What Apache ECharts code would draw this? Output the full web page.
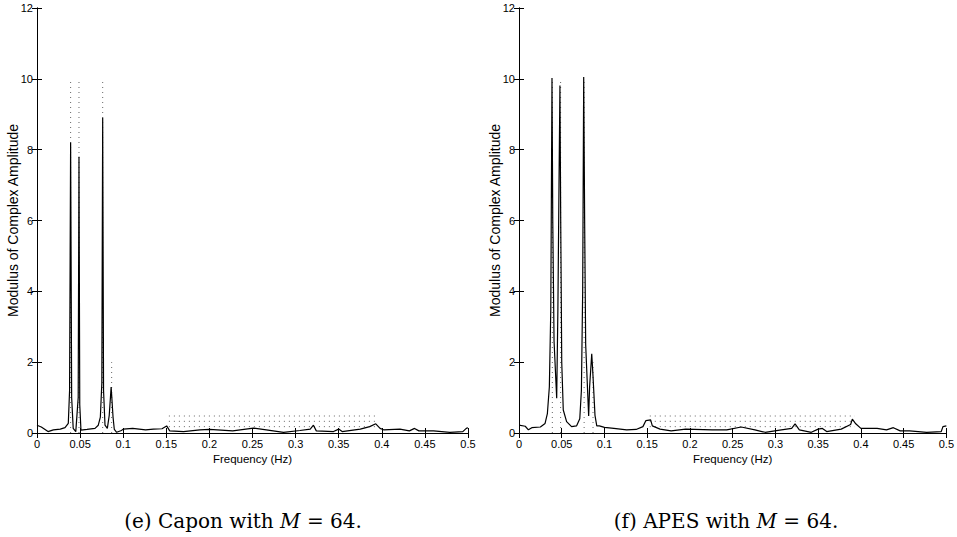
<!DOCTYPE html>
<html>
<head>
<meta charset="utf-8">
<script src="https://cdn.jsdelivr.net/npm/echarts@6/dist/echarts.min.js"></script>
<style>
html,body{margin:0;padding:0;background:#fff;}
#chart{width:957px;height:537px;}
</style>
</head>
<body>
<div id="chart"></div>
<script>
// ---- Data ----
// (e) Capon spectrum estimate
const caponFreq = [0, 0.005, 0.0128, 0.019, 0.027, 0.0325, 0.0363, 0.0378, 0.039, 0.0402, 0.042, 0.045, 0.0478, 0.0487, 0.0496, 0.051, 0.058, 0.0673, 0.0711, 0.0735, 0.0752, 0.0762, 0.0772, 0.0789, 0.0816, 0.0838, 0.0852, 0.086, 0.0868, 0.0882, 0.0897, 0.0924, 0.098, 0.1, 0.111, 0.126, 0.135, 0.145, 0.1504, 0.154, 0.17, 0.189, 0.2, 0.227, 0.251, 0.266, 0.286, 0.305, 0.317, 0.3207, 0.324, 0.344, 0.35, 0.354, 0.375, 0.386, 0.393, 0.398, 0.402, 0.421, 0.432, 0.438, 0.443, 0.46, 0.479, 0.494, 0.498, 0.5];
const caponAmp  = [0.22, 0.17, 0.04, 0.09, 0.11, 0.15, 0.27, 1.2, 8.2, 1.0, 0.13, 0.04, 1.0, 7.8, 0.8, 0.08, 0.1, 0.13, 0.22, 0.45, 1.4, 8.9, 1.2, 0.22, 0.13, 0.5, 1.0, 1.3, 1.0, 0.45, 0.1, 0.02, 0.07, 0.11, 0.13, 0.09, 0.11, 0.12, 0.2, 0.06, 0.04, 0.09, 0.1, 0.06, 0.14, 0.09, 0.02, 0.07, 0.11, 0.22, 0.06, 0.04, 0.11, 0.04, 0.11, 0.18, 0.26, 0.13, 0.09, 0.11, 0.06, 0.13, 0.06, 0.06, 0.02, 0.04, 0.13, 0.15];
// (f) APES spectrum estimate
const apesFreq = [0, 0.0073, 0.011, 0.015, 0.025, 0.0305, 0.0332, 0.0355, 0.0372, 0.0386, 0.0395, 0.041, 0.0441, 0.0455, 0.0468, 0.0479, 0.0488, 0.05, 0.0518, 0.0557, 0.0615, 0.0673, 0.0711, 0.073, 0.0745, 0.0757, 0.0768, 0.078, 0.0815, 0.0826, 0.0851, 0.0866, 0.0889, 0.091, 0.094, 0.1, 0.111, 0.126, 0.137, 0.145, 0.1485, 0.154, 0.156, 0.165, 0.178, 0.195, 0.226, 0.243, 0.26, 0.276, 0.288, 0.307, 0.319, 0.323, 0.328, 0.342, 0.35, 0.355, 0.36, 0.377, 0.388, 0.39, 0.394, 0.4, 0.419, 0.43, 0.438, 0.446, 0.457, 0.477, 0.494, 0.496, 0.5];
const apesAmp  = [0.22, 0.19, 0.09, 0.15, 0.17, 0.27, 0.55, 1.3, 3.5, 10.02, 6.0, 2.6, 0.98, 3.5, 7.0, 9.81, 6.0, 2.0, 0.65, 0.32, 0.18, 0.2, 0.4, 1.2, 4.0, 10.05, 6.0, 2.5, 0.48, 1.3, 2.24, 1.6, 0.5, 0.2, 0.2, 0.16, 0.13, 0.09, 0.1, 0.18, 0.35, 0.37, 0.2, 0.11, 0.06, 0.11, 0.09, 0.09, 0.17, 0.09, 0.02, 0.09, 0.13, 0.26, 0.09, 0.02, 0.11, 0.13, 0.04, 0.11, 0.24, 0.39, 0.26, 0.13, 0.13, 0.09, 0.15, 0.06, 0.06, 0.02, 0.04, 0.18, 0.2];
// True spectrum (dotted): line components and continuous band
const trueFreq = [0.039, 0.0487, 0.0762, 0.0866];
const trueAmp  = [10, 10, 10, 2];
const bandStart = 0.153, bandEnd = 0.393;
const bandLevels = [0.18, 0.33, 0.48];
// Axis ticks
const xMin = 0, xMax = 0.5, xStep = 0.05;
const yMin = 0, yMax = 12, yStep = 2;
const captions = ['(e) Capon with {m|M} = 64.', '(f) APES with {m|M} = 64.'];
const yName = 'Modulus of Complex Amplitude';
const xName = 'Frequency (Hz)';

// ---- Layout ----
const grids = [
  {left: 37, top: 8, width: 431, height: 425},
  {left: 519, top: 8, width: 430, height: 425}
];
const capX = [238, 721];

const sansFamily = "'Liberation Sans', Arial, Helvetica, sans-serif";
const labelFont = {fontFamily: sansFamily, fontSize: 11, color: '#000'};
const axLine = {show: true, lineStyle: {color: '#000', width: 1}};
const tick = {show: true, inside: true, length: 5, lineStyle: {color: '#000', width: 1}};

const xAxes = [], yAxes = [], series = [], titles = [];
grids.forEach((g, p) => {
  xAxes.push({
    type: 'value', gridIndex: p, min: xMin, max: xMax, interval: xStep, position: 'bottom',
    axisLine: axLine, axisTick: tick, splitLine: {show: false},
    axisLabel: Object.assign({margin: 5}, labelFont),
    name: xName, nameLocation: 'middle', nameGap: 20, nameMoveOverlap: false,
    nameTextStyle: Object.assign({}, labelFont, {fontSize: 11.5})
  });
  xAxes.push({
    type: 'value', gridIndex: p, min: xMin, max: xMax, interval: xStep, position: 'top',
    axisLine: axLine, axisTick: tick, splitLine: {show: false}, axisLabel: {show: false}
  });
  yAxes.push({
    type: 'value', gridIndex: p, min: yMin, max: yMax, interval: yStep, position: 'left',
    axisLine: axLine, axisTick: tick, splitLine: {show: false},
    axisLabel: Object.assign({margin: 4}, labelFont),
    name: yName, nameLocation: 'middle', nameGap: 17, nameMoveOverlap: false,
    nameTextStyle: Object.assign({}, labelFont, {fontSize: 14})
  });
  yAxes.push({
    type: 'value', gridIndex: p, min: yMin, max: yMax, interval: yStep, position: 'right',
    axisLine: axLine, axisTick: tick, splitLine: {show: false}, axisLabel: {show: false}
  });

  const dotted = {color: '#666', width: 1, type: [1, 4]};
  trueFreq.forEach((f, i) => {
    series.push({
      type: 'line', xAxisIndex: p * 2, yAxisIndex: p * 2, showSymbol: false, silent: true,
      data: [[f, 0], [f, trueAmp[i]]], lineStyle: dotted, z: 1
    });
  });
  bandLevels.forEach(lv => {
    series.push({
      type: 'line', xAxisIndex: p * 2, yAxisIndex: p * 2, showSymbol: false, silent: true,
      data: [[bandStart, lv], [bandEnd, lv]], lineStyle: dotted, z: 1
    });
  });
  const fr = p === 0 ? caponFreq : apesFreq;
  const am = p === 0 ? caponAmp : apesAmp;
  series.push({
    type: 'line', xAxisIndex: p * 2, yAxisIndex: p * 2, showSymbol: false, silent: true,
    data: fr.map((f, i) => [f, am[i]]),
    lineStyle: {color: '#000', width: 1.2}, z: 3
  });

  titles.push({
    text: captions[p], left: capX[p], top: 506, textAlign: 'center',
    textStyle: {
      fontFamily: "'DejaVu Serif', serif", fontSize: 20, fontWeight: 'normal', color: '#000',
      rich: {m: {fontFamily: "'DejaVu Serif', serif", fontSize: 20, fontStyle: 'italic', color: '#000'}}
    }
  });
});

const chart = echarts.init(document.getElementById('chart'), null, {renderer: 'svg'});
chart.setOption({
  animation: false,
  backgroundColor: '#fff',
  title: titles,
  grid: grids,
  xAxis: xAxes,
  yAxis: yAxes,
  series: series
});
</script>
</body>
</html>
